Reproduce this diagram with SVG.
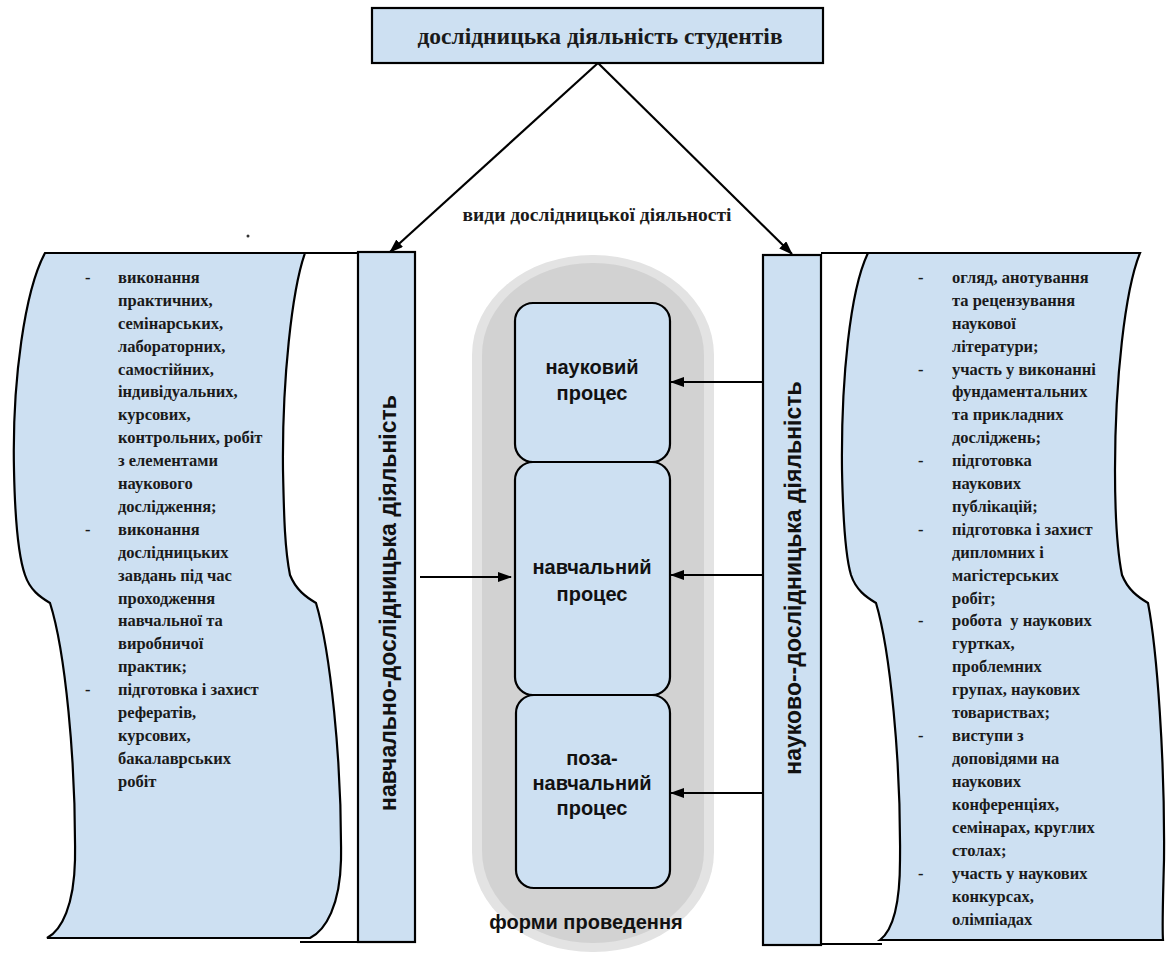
<svg xmlns="http://www.w3.org/2000/svg" width="1166" height="955" viewBox="0 0 1166 955">
<defs>
<marker id="ah" viewBox="0 0 14 10" refX="13" refY="5" markerWidth="14" markerHeight="10" markerUnits="userSpaceOnUse" orient="auto">
<path d="M0,0 L14,5 L0,10 Z" fill="#000"/>
</marker>
<style>
.box{fill:#cde0f2;stroke:#000;stroke-width:2.2}
.ln{stroke:#000;stroke-width:2.2;fill:none}
.ser{font-family:"Liberation Serif","Times New Roman",serif;font-weight:bold;fill:#1a1a1a}
.list{font-family:"Liberation Serif","Times New Roman",serif;font-weight:bold;font-size:16.5px;fill:#1a1a1a}
.sans{font-family:"Liberation Sans",Arial,sans-serif;font-weight:bold;fill:#111}
.conn{stroke:#000;stroke-width:2.2;fill:none;marker-end:url(#ah)}
</style>
</defs>
<rect width="1166" height="955" fill="#fff"/>

<g id="pill">
<rect x="472" y="255" width="242" height="697" rx="120" ry="100" fill="#e3e3e3"/>
<rect x="482" y="263" width="222" height="680" rx="110" ry="92" fill="#d2d2d2"/>
<text class="sans" x="586" y="929" font-size="20" text-anchor="middle">форми проведення</text>
</g>

<g id="title">
<rect class="box" x="372" y="8" width="451" height="55"/>
<text class="ser" x="600" y="44" font-size="23.5" text-anchor="middle">дослідницька діяльність студентів</text>
</g>

<g id="label-types">
<text class="ser" x="597" y="221" font-size="19.5" text-anchor="middle">види дослідницької діяльності</text>
</g>

<circle cx="248" cy="236" r="1.5" fill="#333"/>

<g id="left-scroll">
<path class="box" d="M45 253 L305 253 C292 290 282 380 283 470 C284 520 285 550 290 575 C296 590 306 597 316 603 C330 650 342 760 341 860 C340 905 326 930 310 938 L47 938 C62 930 74 905 75 860 C76 760 65 650 50 603 C40 597 30 590 25 575 C18 555 15 520 14 470 C12 380 25 290 45 253 Z"/>
<line class="ln" x1="303" y1="253" x2="358" y2="253"/>
<line class="ln" x1="300" y1="942" x2="358" y2="942"/>
<g class="list">
<text x="85" y="283">-</text><text x="118" y="283">виконання</text>
<text x="118" y="306">практичних,</text>
<text x="118" y="329">семінарських,</text>
<text x="118" y="352">лабораторних,</text>
<text x="118" y="375">самостійних,</text>
<text x="118" y="397">індивідуальних,</text>
<text x="118" y="420">курсових,</text>
<text x="118" y="443">контрольних, робіт</text>
<text x="118" y="466">з елементами</text>
<text x="118" y="489">наукового</text>
<text x="118" y="512">дослідження;</text>
<text x="85" y="535">-</text><text x="118" y="535">виконання</text>
<text x="118" y="558">дослідницьких</text>
<text x="118" y="581">завдань під час</text>
<text x="118" y="604">проходження</text>
<text x="118" y="626">навчальної та</text>
<text x="118" y="649">виробничої</text>
<text x="118" y="672">практик;</text>
<text x="85" y="695">-</text><text x="118" y="695">підготовка і захист</text>
<text x="118" y="718">рефератів,</text>
<text x="118" y="741">курсових,</text>
<text x="118" y="764">бакалаврських</text>
<text x="118" y="787">робіт</text>
</g>
</g>

<g id="left-bar">
<rect class="box" x="358" y="252" width="57" height="690"/>
<text class="sans" transform="translate(388,603) rotate(-90)" font-size="23" text-anchor="middle" dy="0.35em">навчально-дослідницька діяльність</text>
</g>

<g id="right-bar">
<rect class="box" x="763" y="255" width="58" height="690"/>
<text class="sans" transform="translate(793,578) rotate(-90)" font-size="23" text-anchor="middle" dy="0.35em">науково--дослідницька діяльність</text>
</g>

<g id="right-scroll">
<path class="box" d="M868 253 L1140 253 C1125 290 1115 380 1115 470 C1115 520 1117 550 1122 575 C1128 590 1138 597 1148 603 C1157 650 1165 760 1164 860 C1163 900 1162 925 1163 940 L880 940 C893 930 900 905 900 860 C901 760 890 650 876 603 C866 597 856 590 851 575 C845 555 843 520 842 470 C841 380 850 290 868 253 Z"/>
<line class="ln" x1="821" y1="253" x2="870" y2="253"/>
<line class="ln" x1="821" y1="944" x2="882" y2="944"/>
<g class="list">
<text x="918" y="283">-</text><text x="952" y="283">огляд, анотування</text>
<text x="952" y="306">та рецензування</text>
<text x="952" y="329">наукової</text>
<text x="952" y="352">літератури;</text>
<text x="918" y="375">-</text><text x="952" y="375">участь у виконанні</text>
<text x="952" y="397">фундаментальних</text>
<text x="952" y="420">та прикладних</text>
<text x="952" y="443">досліджень;</text>
<text x="918" y="466">-</text><text x="952" y="466">підготовка</text>
<text x="952" y="489">наукових</text>
<text x="952" y="512">публікацій;</text>
<text x="918" y="535">-</text><text x="952" y="535">підготовка і захист</text>
<text x="952" y="558">дипломних і</text>
<text x="952" y="581">магістерських</text>
<text x="952" y="604">робіт;</text>
<text x="918" y="626">-</text><text x="952" y="626" xml:space="preserve">робота  у наукових</text>
<text x="952" y="649">гуртках,</text>
<text x="952" y="672">проблемних</text>
<text x="952" y="695">групах, наукових</text>
<text x="952" y="718">товариствах;</text>
<text x="918" y="741">-</text><text x="952" y="741">виступи з</text>
<text x="952" y="764">доповідями на</text>
<text x="952" y="787">наукових</text>
<text x="952" y="810">конференціях,</text>
<text x="952" y="833">семінарах, круглих</text>
<text x="952" y="856">столах;</text>
<text x="918" y="879">-</text><text x="952" y="879">участь у наукових</text>
<text x="952" y="902">конкурсах,</text>
<text x="952" y="925">олімпіадах</text>
</g>
</g>

<g id="box-science">
<rect class="box" x="515" y="303" width="155" height="159" rx="18"/>
<text class="sans" x="592" y="374" font-size="20" text-anchor="middle">науковий</text>
<text class="sans" x="592" y="400" font-size="20" text-anchor="middle">процес</text>
</g>
<g id="box-study">
<rect class="box" x="515" y="462" width="155" height="233" rx="18"/>
<text class="sans" x="592" y="574" font-size="20" text-anchor="middle">навчальний</text>
<text class="sans" x="592" y="601" font-size="20" text-anchor="middle">процес</text>
</g>
<g id="box-extra">
<rect class="box" x="516" y="695" width="154" height="193" rx="18"/>
<text class="sans" x="592" y="765" font-size="20" text-anchor="middle">поза-</text>
<text class="sans" x="592" y="790" font-size="20" text-anchor="middle">навчальний</text>
<text class="sans" x="592" y="815" font-size="20" text-anchor="middle">процес</text>
</g>

<g id="connectors">
<line class="conn" x1="598" y1="63" x2="390" y2="252"/>
<line class="conn" x1="598" y1="63" x2="792" y2="254"/>
<line class="conn" x1="763" y1="382" x2="671" y2="382"/>
<line class="conn" x1="763" y1="575" x2="671" y2="575"/>
<line class="conn" x1="763" y1="793" x2="671" y2="793"/>
<line class="conn" x1="420" y1="577" x2="511" y2="577"/>
</g>
</svg>
